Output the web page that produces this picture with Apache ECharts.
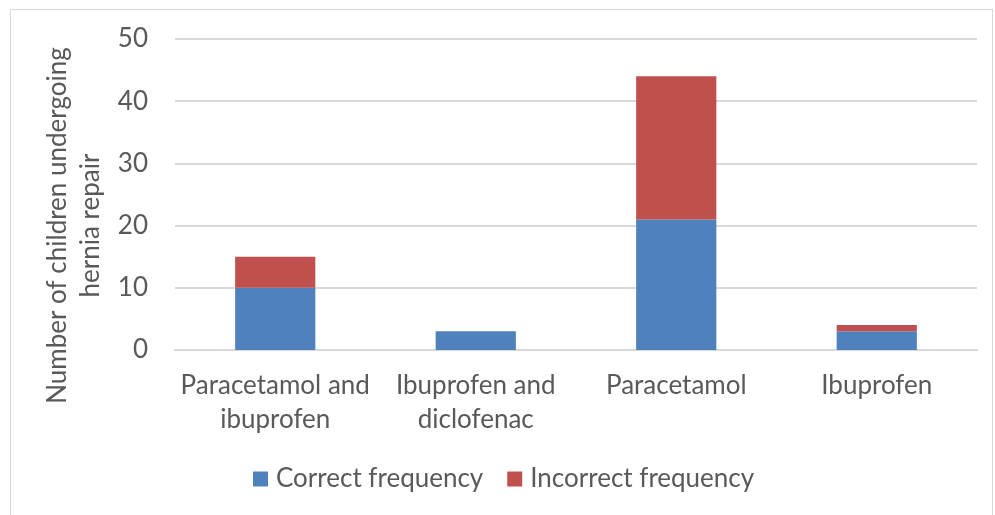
<!DOCTYPE html>
<html><head><meta charset="utf-8">
<script src="https://cdn.jsdelivr.net/npm/echarts@6/dist/echarts.min.js"></script>
<style>
html,body{margin:0;padding:0;background:#fff;}
#frame{position:absolute;left:10px;top:9px;width:983px;height:520px;border:1px solid #d9d9d9;box-sizing:border-box;}
#c{position:absolute;left:0;top:0;width:995px;height:515px;}
</style></head>
<body><div id="frame"></div><div id="c"></div>
<script>
const categories = ["Paracetamol and\nibuprofen", "Ibuprofen and\ndiclofenac", "Paracetamol", "Ibuprofen"];
const correct = [10, 3, 21, 3];
const incorrect = [5, 0, 23, 1];
const yTicks = [0, 10, 20, 30, 40, 50];
const font = 'Lato, "Open Sans", sans-serif';
const chart = echarts.init(document.getElementById('c'), null, {renderer:'canvas'});
chart.setOption({
  animation:false,
  textStyle:{fontFamily:font},
  grid:{left:175, right:18, top:39, bottom:165, containLabel:false, outerBoundsMode:'none'},
  legend:{
    top:461, left:248, itemWidth:15, itemHeight:15, itemGap:24, icon:'rect',
    textStyle:{fontSize:26, color:'#595959', fontFamily:font, padding:[0,0,0,3]},
    data:['Correct frequency','Incorrect frequency']
  },
  xAxis:{
    type:'category', data:categories,
    axisLine:{lineStyle:{color:'#d9d9d9', width:2}}, axisTick:{show:false},
    axisLabel:{fontSize:26, color:'#595959', lineHeight:34, margin:19, interval:0, fontFamily:font}
  },
  yAxis:{
    type:'value', min:yTicks[0], max:yTicks[yTicks.length-1], interval:10,
    name:'Number of children undergoing\nhernia repair', nameLocation:'middle', nameGap:44, nameRotate:90,
    nameTextStyle:{fontSize:26, color:'#595959', lineHeight:33, fontFamily:font, padding:[0,62,0,0]},
    axisLine:{show:false}, axisTick:{show:false},
    axisLabel:{fontSize:26, color:'#595959', margin:27, fontFamily:font},
    splitLine:{lineStyle:{color:'#d9d9d9', width:2}}
  },
  series:[
    {name:'Correct frequency', type:'bar', stack:'a', data:correct, barWidth:'40%', itemStyle:{color:'#4f81bd'}},
    {name:'Incorrect frequency', type:'bar', stack:'a', data:incorrect, barWidth:'40%', itemStyle:{color:'#c0504d'}}
  ]
});
</script></body></html>
